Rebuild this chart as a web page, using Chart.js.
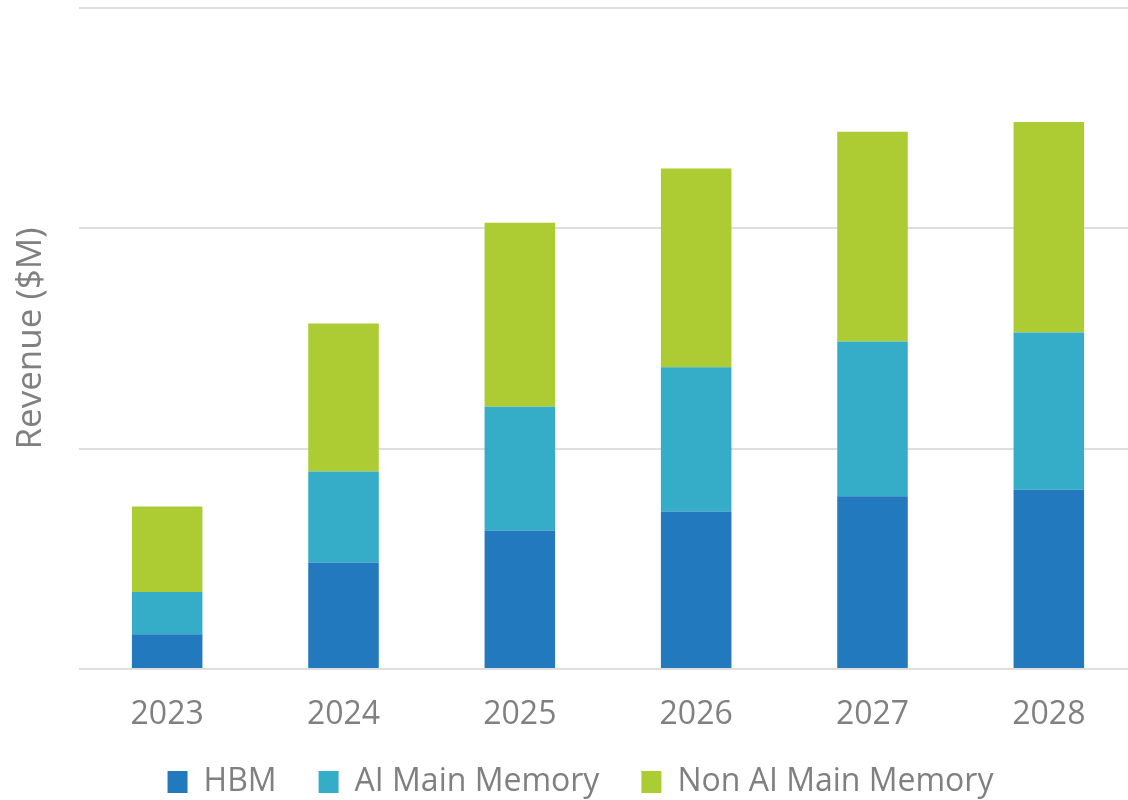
<!DOCTYPE html>
<html>
<head>
<meta charset="utf-8">
<script src="https://cdn.jsdelivr.net/npm/chart.js@4/dist/chart.umd.min.js"></script>
<style>
  html, body { margin: 0; padding: 0; background: #fff; overflow: hidden; }
  #wrap { width: 1128px; height: 800px; overflow: hidden; }
</style>
</head>
<body>
<div id="wrap"><canvas id="revenue" width="1137" height="800"></canvas></div>
<script>
const years = ['2023', '2024', '2025', '2026', '2027', '2028']
const hbm = [158, 483, 629, 715, 784, 813]
const aiMain = [192, 413, 561, 655, 702, 714]
const nonAiMain = [388, 672, 835, 901, 952, 956]

const grey = '#808080'
Chart.defaults.font.family = '"Open Sans", sans-serif'
Chart.defaults.color = grey

// legend sits a little right of centre in the original
const legendShift = {
  id: 'legendShift',
  afterLayout(chart) {
    chart.legend.left += 12
    chart.legend.right += 12
  }
}

new Chart(document.getElementById('revenue'), {
  type: 'bar',
  data: {
    labels: years,
    datasets: [
      { label: 'HBM', data: hbm, backgroundColor: '#2279bd' },
      { label: 'AI Main Memory', data: aiMain, backgroundColor: '#36adc8' },
      { label: 'Non AI Main Memory', data: nonAiMain, backgroundColor: '#adcb33' },
    ]
  },
  plugins: [legendShift],
  options: {
    responsive: false,
    animation: false,
    layout: { padding: { top: 8, right: 0, bottom: -8, left: 0 } },
    datasets: { bar: { categoryPercentage: 1, barPercentage: 0.4 } },
    scales: {
      x: {
        stacked: true,
        afterFit: s => { s.height = 55 },
        grid: { display: false, drawTicks: false },
        border: { display: false },
        ticks: { font: { size: 32 }, color: grey, padding: 27 },
      },
      y: {
        stacked: true,
        min: 0,
        max: 3000,
        afterFit: s => { s.width = 79 },
        ticks: { display: false, stepSize: 1000 },
        grid: { color: '#dedede', lineWidth: 2, drawTicks: false },
        border: { display: false },
        title: {
          display: true,
          text: 'Revenue ($M)',
          font: { size: 35 },
          color: grey,
          padding: { top: 10, bottom: 0 },
        },
      }
    },
    plugins: {
      legend: {
        position: 'bottom',
        labels: {
          font: { size: 32 },
          color: grey,
          boxWidth: 20,
          boxHeight: 22,
          padding: 42,
        }
      },
      tooltip: { enabled: false }
    }
  }
})
</script>
</body>
</html>
